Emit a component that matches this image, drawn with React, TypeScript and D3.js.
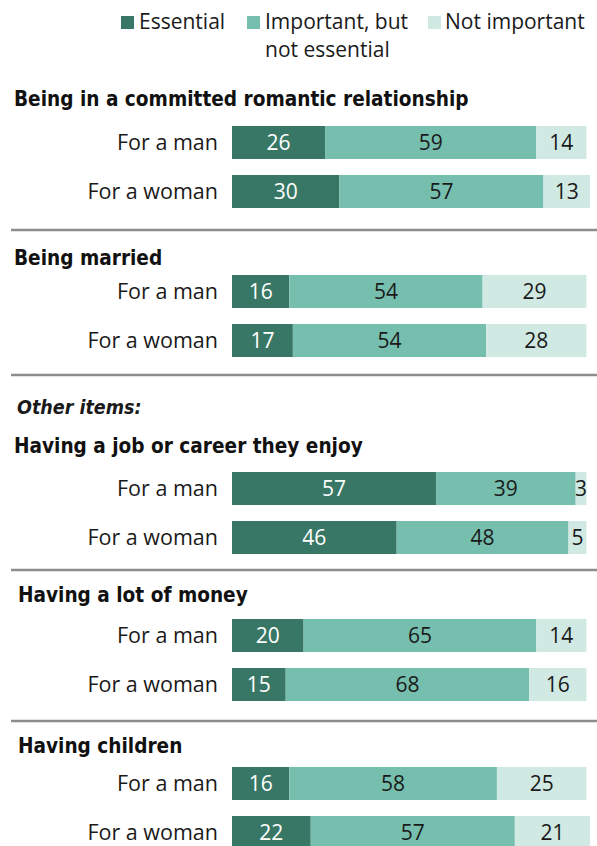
import * as d3 from 'd3'

const categories = ['Essential', 'Important, but not essential', 'Not important']
const rowLabels = ['For a man', 'For a woman']
const groupTitles = [
  'Being in a committed romantic relationship',
  'Being married',
  'Having a job or career they enjoy',
  'Having a lot of money',
  'Having children',
]
// [essential, important, not important] for man, woman
const committedValues = [[26, 59, 14], [30, 57, 13]]
const marriedValues = [[16, 54, 29], [17, 54, 28]]
const jobValues = [[57, 39, 3], [46, 48, 5]]
const moneyValues = [[20, 65, 14], [15, 68, 16]]
const childrenValues = [[16, 58, 25], [22, 57, 21]]
const groupValues = [committedValues, marriedValues, jobValues, moneyValues, childrenValues]

const colors = ['#387765', '#76bfae', '#d1e9e3']
const labelColors = ['#ffffff', '#1a1a1a', '#1a1a1a']

const W = 597
const H = 846
const regular = "'Open Sans', 'Liberation Sans', sans-serif"
const condensed = "'DejaVu Sans Condensed', 'DejaVu Sans', sans-serif"

// vertical layout per group: title baseline, first bar top, separator below (null = none)
const layout = [
  { titleY: 106, titleX: 14, barY: 126, sepY: 230 },
  { titleY: 265, titleX: 14, barY: 275, sepY: 375 },
  { titleY: 453, titleX: 14, barY: 472, sepY: 570 },
  { titleY: 602, titleX: 18, barY: 619, sepY: 721 },
  { titleY: 753, titleX: 18, barY: 767, sepY: null },
]
const rowStep = 49
const barH = 33

export default function App() {
  const x = d3.scaleLinear().domain([0, 100]).range([232, 590])

  return (
    <svg
      width={W}
      height={H}
      style={{ position: 'absolute', left: 0, top: 0, background: '#fff' }}
    >
      {/* Legend */}
      <g fontFamily={regular} fontSize={21} fill="#1a1a1a">
        <rect x={121} y={16} width={13} height={13} fill={colors[0]} />
        <text x={139} y={29}>{categories[0]}</text>
        <rect x={247} y={16} width={13} height={13} fill={colors[1]} />
        <text x={265} y={29}>Important, but</text>
        <text x={265} y={57}>not essential</text>
        <rect x={428} y={16} width={13} height={13} fill={colors[2]} />
        <text x={445} y={29}>{categories[2]}</text>
      </g>

      <text
        x={17}
        y={414}
        fontFamily={condensed}
        fontSize={19.5}
        fontStyle="italic"
        fontWeight="bold"
        fill="#1a1a1a"
      >
        Other items:
      </text>

      {groupValues.map((rows, gi) => {
        const L = layout[gi]
        return (
          <g key={gi}>
            <text
              x={L.titleX}
              y={L.titleY}
              fontFamily={condensed}
              fontSize={20.6}
              fontWeight="bold"
              fill="#111"
            >
              {groupTitles[gi]}
            </text>
            {rows.map((vals, ri) => {
              const y0 = L.barY + ri * rowStep
              const stack = d3.cumsum(vals)
              return (
                <g key={ri}>
                  <text
                    x={218}
                    y={y0 + barH / 2 + 7.5}
                    textAnchor="end"
                    fontFamily={regular}
                    fontSize={21.5}
                    fill="#1a1a1a"
                  >
                    {rowLabels[ri]}
                  </text>
                  {vals.map((v, ci) => {
                    const start = ci === 0 ? 0 : stack[ci - 1]
                    const x0 = x(start)
                    const x1 = x(start + v)
                    return (
                      <g key={ci}>
                        <rect x={x0} y={y0} width={x1 - x0} height={barH} fill={colors[ci]} />
                        <text
                          x={(x0 + x1) / 2}
                          y={y0 + barH / 2 + 7.5}
                          textAnchor="middle"
                          fontFamily={regular}
                          fontSize={21}
                          fill={labelColors[ci]}
                        >
                          {v}
                        </text>
                      </g>
                    )
                  })}
                </g>
              )
            })}
            {L.sepY !== null && (
              <line x1={11} x2={W} y1={L.sepY} y2={L.sepY} stroke="#8c8c8c" strokeWidth={2.5} />
            )}
          </g>
        )
      })}
    </svg>
  )
}
